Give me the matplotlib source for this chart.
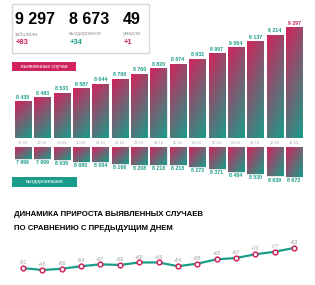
import matplotlib
matplotlib.use('Agg')
import matplotlib.pyplot as plt
from matplotlib.colors import LinearSegmentedColormap
from matplotlib.patches import Rectangle
import numpy as np

plt.rcParams['font.family'] = ['Liberation Sans', 'DejaVu Sans']

dates = ['27.09', '28.09', '29.09', '30.09', '01.10', '02.10', '03.10', '04.10',
         '05.10', '06.10', '07.10', '08.10', '09.10', '10.10', '11.10']
cases = [8435, 8483, 8533, 8587, 8644, 8700, 8760, 8820, 8874, 8932, 8997, 9064, 9137, 9214, 9297]
recovered = [7999, 7999, 8036, 8080, 8084, 8166, 8208, 8218, 8218, 8273, 8371, 8484, 8530, 8639, 8673]
growth = [51, 48, 50, 54, 57, 56, 60, 60, 54, 58, 65, 67, 73, 77, 83]

summary_vals = ['9 297', '8 673', '49']
summary_lbls = ['заболели', 'выздоровели', 'умерли']
summary_diff = ['+83', '+34', '+1']
title_lines = ['ДИНАМИКА ПРИРОСТА ВЫЯВЛЕННЫХ СЛУЧАЕВ', 'ПО СРАВНЕНИЮ С ПРЕДЫДУЩИМ ДНЕМ']

crimson = '#d0245c'
teal = '#1a9c8a'
gray = '#9a9a9a'
cmap = LinearSegmentedColormap.from_list('g', [crimson, teal])

W, H = 315, 285
fig = plt.figure(figsize=(3.15, 2.85), dpi=100)


def fx(px):
    return px / W


def fy(py):
    return 1 - py / H


def fmt(v):
    return f'{v:,}'.replace(',', ' ')


def grad(wu, wv, n=60, m=20):
    u = np.linspace(0, 1, m)[None, :]
    v = np.linspace(0, 1, n)[:, None]
    return wu * u + wv * v


# summary box
fig.patches.append(Rectangle((fx(12), fy(53)), fx(137), 49 / H, transform=fig.transFigure,
                             fill=False, edgecolor='#d8d8d8', lw=1.0))
for i, xp in enumerate([15, 69, 123]):
    fig.text(fx(xp), fy(20), summary_vals[i], fontsize=11.5, fontweight='bold', va='center', ha='left')
    fig.text(fx(xp), fy(34), summary_lbls[i], fontsize=3.8, color=gray, va='center', ha='left')
    fig.text(fx(xp + 1), fy(43), summary_diff[i], fontsize=5.5, fontweight='bold',
             color=teal if i == 1 else crimson, va='center', ha='left')

# labels
fig.patches.append(Rectangle((fx(12), fy(71)), fx(64), 9 / H, transform=fig.transFigure,
                             facecolor=crimson, edgecolor='none'))
fig.text(fx(44), fy(66.5), 'выявленные случаи', fontsize=3.6, color='white', ha='center', va='center')
fig.patches.append(Rectangle((fx(12), fy(187)), fx(65), 10 / H, transform=fig.transFigure,
                             facecolor=teal, edgecolor='none'))
fig.text(fx(44.5), fy(182), 'выздоровевшие', fontsize=3.6, color='white', ha='center', va='center')

x = np.arange(len(dates))
bw = 0.83
left = 23 - 0.5 * 19.36
width = 15 * 19.36

# top bars
base1 = 8015
ax1 = fig.add_axes([fx(left), fy(138), fx(width), 128 / H])
bars = ax1.bar(x, np.array(cases) - base1, bottom=base1, width=bw, facecolor='none',
               edgecolor='#e0e0e0', lw=0.6)
for b in bars:
    x0 = b.get_x()
    ax1.imshow(grad(0.3, 0.7), extent=[x0, x0 + bw, base1, base1 + b.get_height()],
               cmap=cmap, aspect='auto', origin='upper', vmin=0, vmax=1, zorder=2)
for i, v in enumerate(cases):
    ax1.text(i, v + 25, fmt(v), ha='center', va='bottom', fontsize=3.8, fontweight='bold',
             color=crimson if i == len(cases) - 1 else teal)
ax1.set_xlim(-0.5, 14.5)
ax1.set_ylim(base1, base1 + 128 * 11.65)
ax1.axis('off')

for i, d in enumerate(dates):
    fig.text(fx(23 + i * 19.36), fy(142.5), d, fontsize=3.0, color='#b0b0b0', ha='center', va='center')

# lower bars
base2 = 7537
ax2 = fig.add_axes([fx(left), fy(190), fx(width), 43 / H])
bars2 = ax2.bar(x, np.array(recovered) - base2, bottom=base2, width=bw, facecolor='none',
                edgecolor='#e0e0e0', lw=0.6)
for b in bars2:
    x0 = b.get_x()
    ax2.imshow(grad(0.5, 0.5, 30, 20), extent=[x0, x0 + bw, base2 + b.get_height(), base2],
               cmap=cmap, aspect='auto', origin='upper', vmin=0, vmax=1, zorder=2)
for i, v in enumerate(recovered):
    ax2.text(i, v + 40, fmt(v), ha='center', va='top', fontsize=3.8, fontweight='bold', color=teal)
ax2.set_xlim(-0.5, 14.5)
ax2.set_ylim(base2 + 43 * 37.4, base2)
ax2.axis('off')

# title
fig.text(fx(14), fy(214), title_lines[0], fontweight='bold', fontsize=5.6, ha='left', va='center')
fig.text(fx(14), fy(228), title_lines[1], fontweight='bold', fontsize=5.6, ha='left', va='center')

# line chart
ax3 = fig.add_axes([fx(left), fy(282), fx(width), 42 / H])
ax3.plot(x, growth, color=teal, lw=1.6, zorder=2)
ax3.plot(x, growth, 'o', ms=3.4, mfc='white', mec=crimson, mew=1.1, zorder=3)
for i, v in enumerate(growth):
    ax3.text(i, v + 4.5, f'+{v}', ha='center', va='bottom', fontsize=3.5, color='#a0a0a0')
ax3.set_xlim(-0.5, 14.5)
ax3.set_ylim(48 - 12 * 1.59, 48 - 12 * 1.59 + 42 * 1.59)
ax3.axis('off')

fig.savefig('out.png', dpi=100)
